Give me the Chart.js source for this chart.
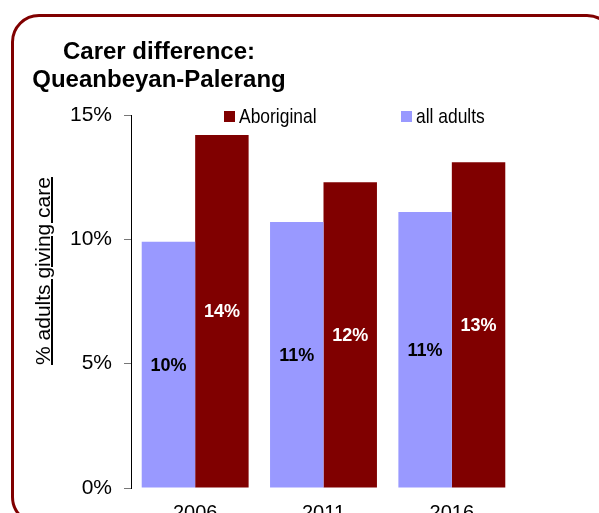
<!DOCTYPE html>
<html>
<head>
<meta charset="utf-8">
<script src="https://cdn.jsdelivr.net/npm/chart.js@4/dist/chart.umd.min.js"></script>
<style>
    html, body { margin: 0; padding: 0; width: 599px; height: 513px; overflow: hidden; background: #fff; }
    body { position: relative; font-family: "Liberation Sans", Arial, sans-serif; }
    #frame {
        position: absolute; left: 11px; top: 14px; width: 604px; height: 511px;
        box-sizing: border-box; border: 3px solid #800000; border-radius: 28px;
    }
    #chartTitle {
        position: absolute; left: 9px; top: 37px; width: 300px;
        text-align: center; font-weight: bold; font-size: 24px; line-height: 28px; color: #000;
    }
    #yTitle {
        position: absolute; left: -82px; top: 259px; width: 250px; height: 24px;
        text-align: center; font-size: 21px; line-height: 24px; color: #000;
        transform: rotate(-90deg);
    }
    #yTitle span { text-decoration: underline; text-decoration-thickness: 2px; }
    .legendItem {
        position: absolute; top: 104px;
        font-size: 21px; line-height: 24px; color: #000; white-space: nowrap;
    }
    .legendItem i { display: inline-block; width: 11px; height: 11px; margin-right: 4px; vertical-align: 1px; }
    .legendItem span { display: inline-block; transform: scaleX(0.83); transform-origin: left center; }
    #chart { position: absolute; left: 0; top: 0; }
</style>
</head>
<body>
<div id="frame"></div>
<canvas id="chart" width="599" height="540"></canvas>
<div id="chartTitle">Carer difference:<br>Queanbeyan-Palerang</div>
<div id="yTitle"><span>% adults giving care</span></div>
<div id="legend"></div>
<script>
// Chart data
const years = ['2006', '2011', '2016'];
const allAdults = [9.9, 10.7, 11.1];
const aboriginal = [14.2, 12.3, 13.1];
const seriesNames = ['all adults', 'Aboriginal'];
const seriesColors = ['#9999ff', '#800000'];
const labelColors = ['#000000', '#ffffff'];
const yTicks = [0, 5, 10, 15];

document.addEventListener('DOMContentLoaded', function() {
    // Legend (Aboriginal first, as in the original)
    const legend = document.getElementById('legend');
    const legendLeft = [224, 401];
    [1, 0].forEach((idx, i) => {
        const item = document.createElement('div');
        item.className = 'legendItem';
        item.style.left = legendLeft[i] + 'px';
        item.innerHTML = '<i style="background:' + seriesColors[idx] + '"></i><span>' + seriesNames[idx] + '</span>';
        legend.appendChild(item);
    });

    // Value labels in the middle of each bar
    const barLabels = {
        id: 'barLabels',
        afterDatasetsDraw(chart) {
            const ctx = chart.ctx;
            ctx.save();
            ctx.font = 'bold 18px "Liberation Sans", Arial, sans-serif';
            ctx.textAlign = 'center';
            ctx.textBaseline = 'middle';
            chart.data.datasets.forEach((ds, i) => {
                ctx.fillStyle = labelColors[i];
                chart.getDatasetMeta(i).data.forEach((bar, j) => {
                    ctx.fillText(Math.round(ds.data[j]) + '%', bar.x, (bar.y + bar.base) / 2 + 1);
                });
            });
            ctx.restore();
        }
    };

    Chart.defaults.font.family = '"Liberation Sans", Arial, sans-serif';
    Chart.defaults.color = '#000';

    new Chart(document.getElementById('chart'), {
        type: 'bar',
        data: {
            labels: years,
            datasets: [{
                label: seriesNames[0],
                data: allAdults,
                backgroundColor: seriesColors[0]
            }, {
                label: seriesNames[1],
                data: aboriginal,
                backgroundColor: seriesColors[1]
            }]
        },
        options: {
            responsive: false,
            devicePixelRatio: 1,
            animation: false,
            layout: {
                padding: { top: 115, right: 83, bottom: 0, left: 0 }
            },
            datasets: {
                bar: { categoryPercentage: 0.833, barPercentage: 1.0 }
            },
            plugins: {
                legend: { display: false },
                tooltip: { enabled: false }
            },
            scales: {
                x: {
                    grid: { display: false, drawTicks: false },
                    border: { display: false },
                    ticks: { font: { size: 20 }, padding: 13, color: '#000' },
                    afterFit: function(scale) { scale.height = 52; }
                },
                y: {
                    min: yTicks[0],
                    max: yTicks[yTicks.length - 1],
                    afterBuildTicks: function(scale) {
                        scale.ticks = yTicks.map(v => ({ value: v }));
                    },
                    grid: { drawOnChartArea: false, drawTicks: true, tickLength: 7, color: '#777' },
                    border: { display: true, color: '#000', width: 1 },
                    ticks: {
                        font: { size: 21 },
                        padding: 12,
                        color: '#000',
                        callback: function(v) { return v + '%'; }
                    },
                    afterFit: function(scale) { scale.width = 131; }
                }
            }
        },
        plugins: [barLabels]
    });
});
</script>
</body>
</html>
